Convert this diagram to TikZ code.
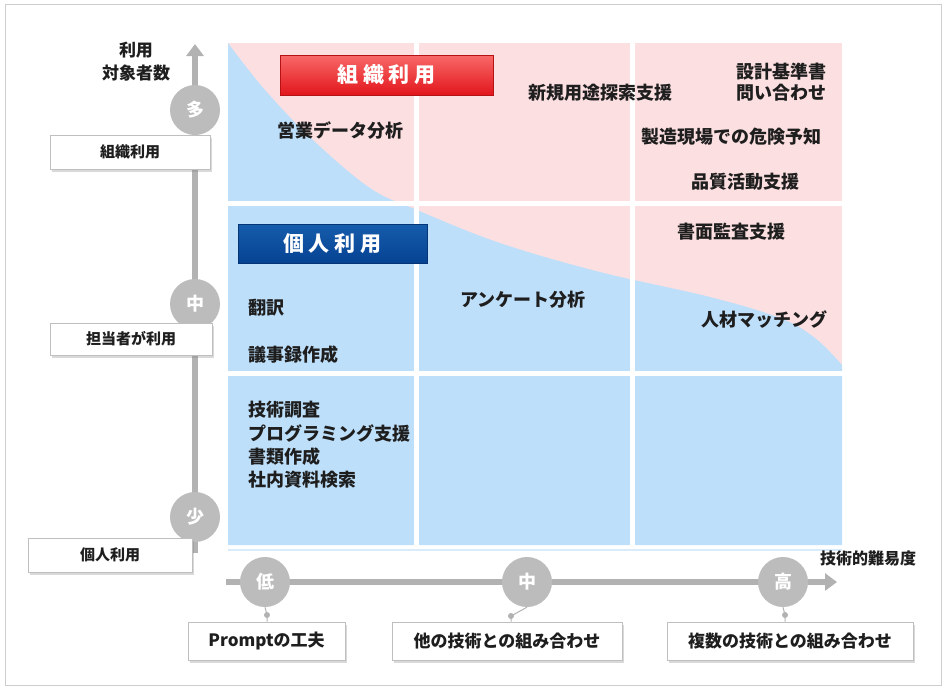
\documentclass[tikz,border=0pt]{standalone}
\usepackage{fontspec}
\setmainfont{Noto Sans CJK JP}
\usetikzlibrary{shadows,arrows.meta}
\definecolor{pinkbg}{RGB}{252,223,225}
\definecolor{bluebg}{RGB}{190,223,250}
\definecolor{axisgray}{RGB}{178,178,178}
\definecolor{circgray}{RGB}{188,188,188}
\definecolor{redA}{RGB}{248,105,105}
\definecolor{redB}{RGB}{226,22,28}
\definecolor{blueA}{RGB}{22,92,172}
\definecolor{blueB}{RGB}{6,66,146}
\definecolor{framegray}{RGB}{205,205,205}
\definecolor{txt}{RGB}{30,30,30}
\begin{document}
\begin{tikzpicture}[x=1pt,y=-1pt,
  item/.style={font=\bfseries\fontsize{18}{23}\selectfont, text=txt, inner sep=0pt},
  lbox/.style={draw=black!25, line width=0.6pt, fill=white, inner sep=0pt,
    font=\bfseries\fontsize{15}{18}\selectfont, text=txt,
    drop shadow={shadow xshift=2pt, shadow yshift=-3pt, opacity=0.3}},
  bbox/.style={draw=black!25, line width=0.6pt, fill=white, inner sep=0pt,
    font=\bfseries\fontsize{17}{20}\selectfont, text=txt,
    drop shadow={shadow xshift=2pt, shadow yshift=-3pt, opacity=0.3}},
  circ/.style={circle, fill=circgray, minimum size=50pt, inner sep=0pt,
    font=\bfseries\fontsize{18}{20}\selectfont, text=white},
  axis/.style={draw=axisgray, line width=6.5pt, -{Triangle[length=12pt,width=17pt]}},
  gridline/.style={draw=white, line width=5pt},
  conn/.style={draw=axisgray, line width=1pt},
  dotc/.style={circle, fill=axisgray, minimum size=6pt, inner sep=0pt}
]
\useasboundingbox (0,0) rectangle (946,691);
% outer frame
\draw[framegray, line width=1pt] (5,4) rectangle (941,685);

% grid background
\fill[pinkbg] (228,43) rectangle (842,545);
\fill[bluebg] plot[smooth, tension=0.6] coordinates {(228,43) (265,90) (313,140) (370,188) (417,210) (500,243) (600,272) (710,297) (780,318) (815,338) (842,365)}
  -- (842,545) -- (228,545) -- cycle;
\draw[gridline] (416,41) -- (416,547);
\draw[gridline] (632,41) -- (632,547);
\draw[gridline] (226,203) -- (844,203);
\draw[gridline] (226,373) -- (844,373);
\draw[bluebg!60, line width=2pt] (228,550) -- (842,550);

% category labels
\node[minimum width=213pt, minimum height=40pt, inner sep=0pt,
  top color=redA, bottom color=redB, draw=redB!80!black, line width=0.4pt,
  font=\bfseries\fontsize{21}{24}\selectfont, text=white] (org) at (386.5,75)
  {組\hspace{5pt}織\hspace{5pt}利\hspace{5pt}用};
\node[minimum width=189pt, minimum height=39pt, inner sep=0pt,
  top color=blueA, bottom color=blueB, draw=blueB!80!black, line width=0.4pt,
  font=\bfseries\fontsize{21}{24}\selectfont, text=white] (per) at (332.5,244)
  {個\hspace{5pt}人\hspace{5pt}利\hspace{5pt}用};

% items
\node[item] (i1) at (340,131) {営業データ分析};
\node[item] (i2) at (600,93) {新規用途探索支援};
\node[item, align=center, font=\bfseries\fontsize{18}{21}\selectfont] (i3) at (781,82) {設計基準書\\問い合わせ};
\node[item] (i4) at (731,137) {製造現場での危険予知};
\node[item] (i5) at (745,182) {品質活動支援};
\node[item] (i6) at (731,232) {書面監査支援};
\node[item] (i7) at (764,320) {人材マッチング};
\node[item] (i8) at (523,300) {アンケート分析};
\node[item, anchor=west] (i9) at (248,308) {翻訳};
\node[item, anchor=west] (i10) at (248,355) {議事録作成};
\node[item, anchor=west, align=left, font=\bfseries\fontsize{18}{23.3}\selectfont] (i11) at (248,445)
  {技術調査\\プログラミング支援\\書類作成\\社内資料検索};

% vertical axis
\coordinate (vb) at (195,553);
\coordinate (vt) at (195,44);
\draw[axis] (vb) -- (vt);
\node[font=\bfseries\fontsize{17}{23}\selectfont, text=txt, align=center, inner sep=0pt] (vlab) at (136,62) {利用\\対象者数};
\node[circ] (v1) at (195,110) {多};
\node[circ] (v2) at (195,304) {中};
\node[circ] (v3) at (195,517) {少};
\node[lbox, minimum width=160pt, minimum height=34pt] (l1) at (130,152) {組織利用};
\node[lbox, minimum width=162pt, minimum height=32pt] (l2) at (131,339) {担当者が利用};
\node[lbox, minimum width=164pt, minimum height=34pt] (l3) at (110,555) {個人利用};

% horizontal axis
\coordinate (hl) at (226,582);
\coordinate (hr) at (837,582);
\draw[axis] (hl) -- (hr);
\node[font=\bfseries\fontsize{16}{18}\selectfont, text=txt, inner sep=0pt] (hlab) at (868,558) {技術的難易度};
\node[circ] (h1) at (265,582) {低};
\node[circ] (h2) at (527,582) {中};
\node[circ] (h3) at (783,582) {高};
\node[bbox, minimum width=157pt, minimum height=38pt] (b1) at (266.5,641) {Promptの工夫};
\node[bbox, minimum width=230pt, minimum height=38pt] (b2) at (507,641) {他の技術との組み合わせ};
\node[bbox, minimum width=246pt, minimum height=38pt] (b3) at (790,641) {複数の技術との組み合わせ};
\coordinate (d1) at (267,615);
\coordinate (d2) at (511,616);
\coordinate (d3) at (785,615);
\draw[conn] (h1.south) -- (d1) -- (b1.north -| d1);
\draw[conn] (h2.south) -- (d2) -- (b2.north -| d2);
\draw[conn] (h3.south) -- (d3) -- (b3.north -| d3);
\node[dotc] at (d1) {};
\node[dotc] at (d2) {};
\node[dotc] at (d3) {};
\end{tikzpicture}
\end{document}
